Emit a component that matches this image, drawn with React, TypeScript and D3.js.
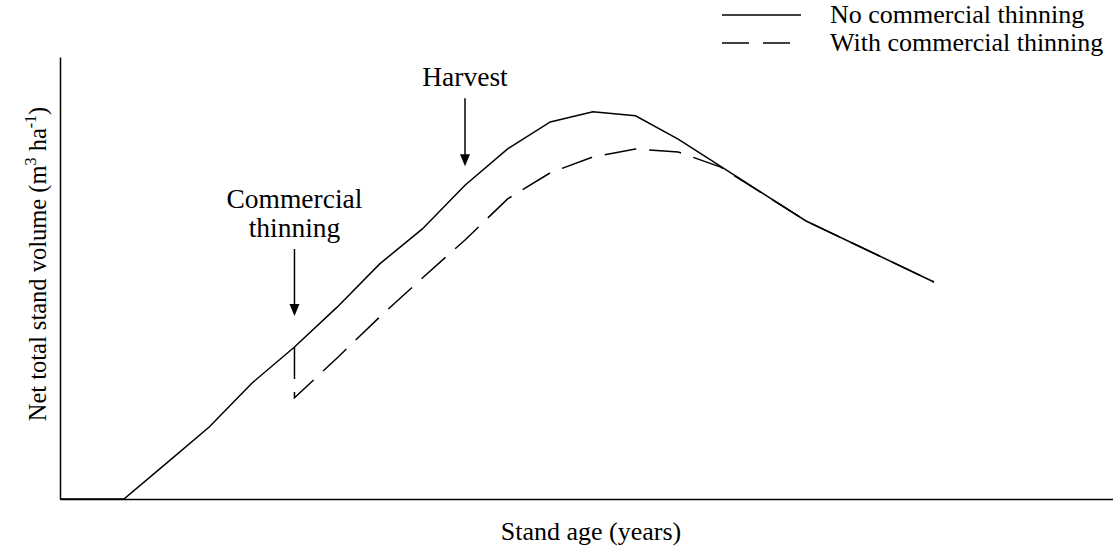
import * as d3 from "d3";
import { useEffect, useRef } from "react";

// stand age (years) and volume (arbitrary m3/ha units)
const agesNoThin = [0, 15, 25, 35, 45, 55, 65, 75, 85, 95, 105, 115, 125, 135, 145, 175, 205];
const volNoThin = [0, 0, 8.1, 16.3, 26.2, 34.4, 43.4, 53.2, 61.1, 71.0, 79.2, 85.3, 87.6, 86.7, 81.4, 62.9, 49.1];

// thinned stand: drops at age 55, rejoins the unthinned curve around 155
const agesThin = [55, 55, 65, 75, 85, 95, 105, 115, 125, 135, 145, 155, 175, 205];
const volThin = [34.4, 22.9, 31.9, 41.2, 50.0, 58.6, 67.9, 73.8, 77.4, 79.2, 78.5, 75.1, 62.9, 49.1];

const legendLabels = ["No commercial thinning", "With commercial thinning"];

// annotations: [age, volume at arrow tip]
const thinningMark = { age: 55, tip: 41.4, label: ["Commercial", "thinning"] };
const harvestMark = { age: 95, tip: 75.3, label: ["Harvest"] };

const W = 1113;
const H = 548;
const FONT = "'Liberation Serif', 'Times New Roman', serif";
const DASH = "32,13";

const App = () => {
  const ref = useRef<SVGSVGElement>(null);

  useEffect(() => {
    const svg = d3.select(ref.current);
    svg.selectAll("*").remove();

    const margin = { top: 57, right: 0, bottom: 49, left: 60 };
    const x = d3.scaleLinear().domain([0, 247]).range([margin.left, W - margin.right]);
    const y = d3.scaleLinear().domain([0, 100]).range([H - margin.bottom, margin.top]);

    // axes without ticks
    svg.append("g")
      .attr("transform", `translate(0,${y(0)})`)
      .call(d3.axisBottom(x).tickValues([]).tickSizeOuter(0))
      .select(".domain").attr("stroke", "#000").attr("stroke-width", 1.5);
    svg.append("g")
      .attr("transform", `translate(${x(0)},0)`)
      .call(d3.axisLeft(y).tickValues([]).tickSizeOuter(0))
      .select(".domain").attr("stroke", "#000").attr("stroke-width", 1.5);

    const line = d3.line<[number, number]>().x(d => x(d[0])).y(d => y(d[1]));

    svg.append("path")
      .attr("d", line(agesNoThin.map((a, i) => [a, volNoThin[i]])))
      .attr("fill", "none").attr("stroke", "#000").attr("stroke-width", 1.5);

    svg.append("path")
      .attr("d", line(agesThin.map((a, i) => [a, volThin[i]])))
      .attr("fill", "none").attr("stroke", "#000").attr("stroke-width", 1.5)
      .attr("stroke-dasharray", DASH);

    // arrows with labels
    const arrow = (m: { age: number; tip: number; label: string[] }, len: number) => {
      const ax = x(m.age);
      const ty = y(m.tip);
      svg.append("line")
        .attr("x1", ax).attr("x2", ax).attr("y1", ty - len).attr("y2", ty - 10)
        .attr("stroke", "#000").attr("stroke-width", 1.5);
      svg.append("path")
        .attr("d", `M${ax - 5},${ty - 12} L${ax + 5},${ty - 12} L${ax},${ty} Z`)
        .attr("fill", "#000");
      m.label.forEach((t, i) => {
        svg.append("text")
          .attr("x", ax)
          .attr("y", ty - len - 12 - (m.label.length - 1 - i) * 29)
          .attr("text-anchor", "middle")
          .attr("font-family", FONT).attr("font-size", 27.5)
          .text(t);
      });
    };
    arrow(thinningMark, 67);
    arrow(harvestMark, 68);

    // axis titles
    svg.append("text")
      .attr("x", 591).attr("y", H - 8)
      .attr("text-anchor", "middle")
      .attr("font-family", FONT).attr("font-size", 26)
      .text("Stand age (years)");

    const yl = svg.append("text")
      .attr("transform", `translate(46,${(y(0) + y(100)) / 2 - 14}) rotate(-90)`)
      .attr("text-anchor", "middle")
      .attr("font-family", FONT).attr("font-size", 24.5);
    yl.append("tspan").text("Net total stand volume (m");
    yl.append("tspan").attr("font-size", 16).attr("dy", -10).text("3");
    yl.append("tspan").attr("dy", 10).text(" ha");
    yl.append("tspan").attr("font-size", 16).attr("dy", -10).text("-1");
    yl.append("tspan").attr("dy", 10).text(")");

    // legend
    const lg = svg.append("g");
    legendLabels.forEach((t, i) => {
      const ly = 15 + i * 28;
      lg.append("line")
        .attr("x1", 722).attr("x2", 801).attr("y1", ly).attr("y2", ly)
        .attr("stroke", "#000").attr("stroke-width", 1.5)
        .attr("stroke-dasharray", i === 0 ? null : "27,14");
      lg.append("text")
        .attr("x", 830).attr("y", ly + 8)
        .attr("font-family", FONT).attr("font-size", 26)
        .text(t);
    });
  }, []);

  return (
    <svg ref={ref} width={W} height={H}
      style={{ position: "absolute", left: 0, top: 0, background: "#fff" }} />
  );
};

export default App;
